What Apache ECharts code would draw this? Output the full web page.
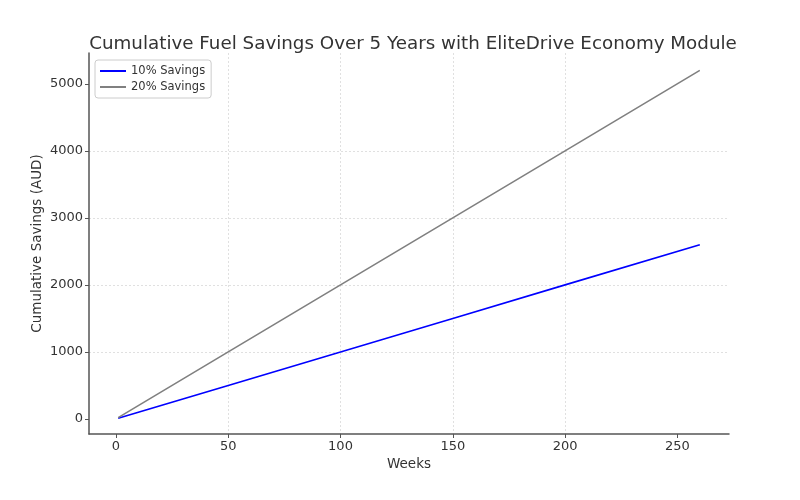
<!DOCTYPE html>
<html>
<head>
<meta charset="utf-8">
<script src="https://cdn.jsdelivr.net/npm/echarts@6/dist/echarts.min.js"></script>
<style>
html,body{margin:0;padding:0;background:#fff;}
#chart{width:800px;height:500px;}
</style>
</head>
<body>
<div id="chart"></div>
<script>
// Data
const weeks = [1, 50, 100, 150, 200, 260];
const savings10 = [10, 500, 1000, 1500, 2000, 2600];
const savings20 = [20, 1000, 2000, 3000, 4000, 5200];
const xTicks = [0, 50, 100, 150, 200, 250];
const yTicks = [0, 1000, 2000, 3000, 4000, 5000];
const seriesNames = ['10% Savings', '20% Savings'];
const titleText = 'Cumulative Fuel Savings Over 5 Years with EliteDrive Economy Module';

const font = 'DejaVu Sans';
const chart = echarts.init(document.getElementById('chart'), null, {renderer: 'canvas'});
const pair = (xs, ys) => xs.map((x, i) => [x, ys[i]]);

chart.setOption({
  animation: false,
  backgroundColor: '#ffffff',
  title: {
    text: titleText,
    left: 408, textAlign: 'center', top: 30,
    textStyle: {fontFamily: font, fontSize: 18.3, fontWeight: 'normal', color: '#333333'}
  },
  grid: {left: 89, right: 71, top: 53, bottom: 66, containLabel: false},
  legend: {
    orient: 'vertical', left: 95, top: 60,
    data: seriesNames,
    icon: 'rect', itemWidth: 26, itemHeight: 2, itemGap: 4,
    padding: [5, 6, 5, 5],
    borderColor: '#cccccc', borderWidth: 1, borderRadius: 3,
    backgroundColor: 'rgba(255,255,255,0.8)',
    textStyle: {fontFamily: font, fontSize: 11.5, color: '#333333'}
  },
  xAxis: {
    type: 'value', min: -12, max: 273,
    name: 'Weeks', nameLocation: 'middle', nameGap: 22,
    nameTextStyle: {fontFamily: font, fontSize: 13.5, color: '#333333'},
    axisLine: {show: true, onZero: false, lineStyle: {color: '#555555', width: 1.5}},
    axisTick: {show: true, customValues: xTicks, length: 4, lineStyle: {color: '#555555', width: 1}},
    axisLabel: {customValues: xTicks, fontFamily: font, fontSize: 13, color: '#333333', margin: 6,
      formatter: v => String(v)},
    splitLine: {show: true, showMinLine: false, showMaxLine: false, lineStyle: {color: '#d8d8d8', type: [2, 2], width: 0.8}}
  },
  yAxis: {
    type: 'value', min: -225, max: 5460,
    name: 'Cumulative Savings (AUD)', nameLocation: 'middle', nameGap: 45, nameRotate: 90,
    nameMoveOverlap: false,
    nameTextStyle: {fontFamily: font, fontSize: 13.5, color: '#333333'},
    axisLine: {show: true, onZero: false, lineStyle: {color: '#555555', width: 1.5}},
    axisTick: {show: true, customValues: yTicks, length: 4, lineStyle: {color: '#555555', width: 1}},
    axisLabel: {customValues: yTicks, fontFamily: font, fontSize: 13, color: '#333333', margin: 6,
      formatter: v => String(v)},
    splitLine: {show: true, showMinLine: false, showMaxLine: false, lineStyle: {color: '#d8d8d8', type: [2, 2], width: 0.8}}
  },
  series: [
    {
      name: seriesNames[0], type: 'line', data: pair(weeks, savings10),
      showSymbol: false, symbol: 'none',
      lineStyle: {color: '#0000ff', width: 1.6}, itemStyle: {color: '#0000ff'}
    },
    {
      name: seriesNames[1], type: 'line', data: pair(weeks, savings20),
      showSymbol: false, symbol: 'none',
      lineStyle: {color: '#808080', width: 1.6}, itemStyle: {color: '#808080'}
    }
  ]
});
</script>
</body>
</html>
